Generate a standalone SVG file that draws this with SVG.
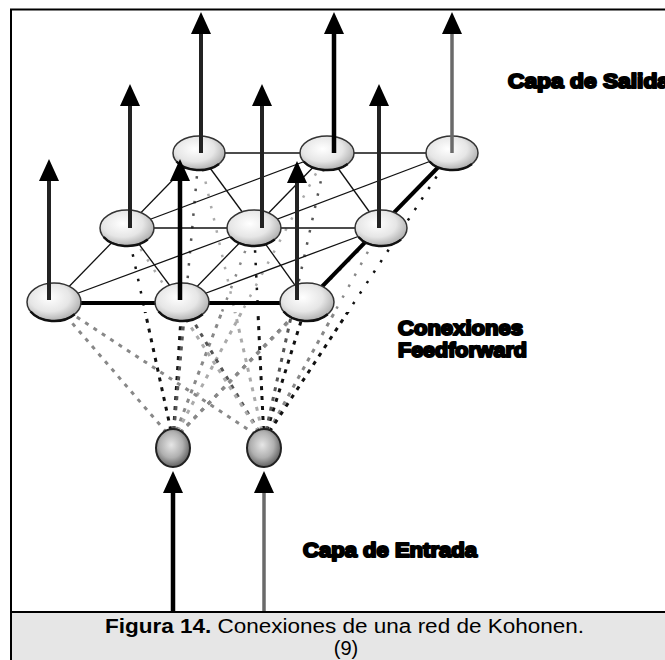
<svg xmlns="http://www.w3.org/2000/svg" width="665" height="660" viewBox="0 0 665 660">
  <defs>
    <radialGradient id="shell" cx="0.42" cy="0.38" r="0.68">
      <stop offset="0" stop-color="#ffffff"/>
      <stop offset="0.55" stop-color="#e6e6e6"/>
      <stop offset="1" stop-color="#a4a4a4"/>
    </radialGradient>
    <radialGradient id="bead" cx="0.45" cy="0.42" r="0.62">
      <stop offset="0" stop-color="#e6e6e6"/>
      <stop offset="0.55" stop-color="#b0b0b0"/>
      <stop offset="1" stop-color="#555555"/>
    </radialGradient>
    <marker id="head" viewBox="0 0 22 20" refX="11" refY="10" markerWidth="22" markerHeight="20" markerUnits="userSpaceOnUse" orient="auto">
      <path d="M0,0 L22,10 L0,20 Z" fill="#000"/>
    </marker>
    <clipPath id="below-map"><rect x="0" y="312" width="665" height="300"/></clipPath>
    <clipPath id="inside-map"><rect x="0" y="130" width="665" height="182"/></clipPath>
    <!-- one dotted line from each input unit to each map unit -->
    <g id="ff-lines">
      <line class="g" x1="173" y1="440" x2="54" y2="302"/>
      <line class="k" x1="173" y1="440" x2="182" y2="302"/>
      <line class="d" x1="173" y1="440" x2="307" y2="302"/>
      <line class="k" x1="173" y1="440" x2="127" y2="228"/>
      <line class="g" x1="173" y1="440" x2="254" y2="228"/>
      <line class="l" x1="173" y1="440" x2="381" y2="228"/>
      <line class="d" x1="173" y1="440" x2="199" y2="153"/>
      <line class="l" x1="173" y1="440" x2="327" y2="153"/>
      <line class="g" x1="173" y1="440" x2="452" y2="153"/>
      <line class="g" x1="264" y1="440" x2="54" y2="302"/>
      <line class="d" x1="264" y1="440" x2="182" y2="302"/>
      <line class="k" x1="264" y1="440" x2="307" y2="302"/>
      <line class="l" x1="264" y1="440" x2="127" y2="228"/>
      <line class="k" x1="264" y1="440" x2="254" y2="228"/>
      <line class="g" x1="264" y1="440" x2="381" y2="228"/>
      <line class="l" x1="264" y1="440" x2="199" y2="153"/>
      <line class="d" x1="264" y1="440" x2="327" y2="153"/>
      <line class="k" x1="264" y1="440" x2="452" y2="153"/>
    </g>
    <style>
      .ff { fill: none; stroke-width: 3; stroke-dasharray: 4 6; }
      .ff-fine { fill: none; stroke-width: 2.5; stroke-dasharray: 2.5 10; }
      .k { stroke: #111; }
      .d { stroke: #555; }
      .g { stroke: #888; }
      .l { stroke: #aaa; }
      .mesh { stroke: #111; stroke-width: 1.3; fill: none; }
      .edge { stroke: #000; stroke-width: 4; fill: none; }
      .cell { fill: url(#shell); stroke: #333; stroke-width: 1.5; }
      .rim { fill: none; stroke: #111; stroke-width: 2.5; }
      .bead { fill: url(#bead); stroke: #222; stroke-width: 2; }
      .shaft { stroke: #222; stroke-width: 4; marker-end: url(#head); }
      .shaft.grey { stroke: #6a6a6a; stroke-width: 3.5; }
      .shaft.black { stroke: #000; stroke-width: 4.5; }
      .label { font-family: "Liberation Sans", Arial, sans-serif; font-weight: bold; font-size: 21px; fill: #000; stroke: #000; stroke-width: 2.2; stroke-linejoin: round; }
      .caption { font-family: "Liberation Sans", Arial, sans-serif; font-size: 20px; fill: #000; }
    </style>
  </defs>

  <!-- frame -->
  <rect x="11" y="9.5" width="700" height="700" fill="#fff" stroke="#000" stroke-width="2"/>

  <!-- feedforward connections -->
  <g id="feedforward">
    <g class="ff" clip-path="url(#below-map)"><use href="#ff-lines"/></g>
    <g class="ff-fine" clip-path="url(#inside-map)"><use href="#ff-lines"/></g>
  </g>

  <!-- lateral connections of the output map -->
  <g id="mesh">
    <!-- rows -->
    <line class="mesh" x1="199" y1="153" x2="452" y2="153"/>
    <line class="mesh" x1="127" y1="228" x2="381" y2="228"/>
    <line class="edge" x1="54" y1="303" x2="307" y2="303"/>
    <!-- columns -->
    <line class="mesh" x1="54" y1="302" x2="199" y2="153"/>
    <line class="mesh" x1="182" y1="302" x2="327" y2="153"/>
    <line class="edge" x1="307" y1="302" x2="452" y2="153"/>
    <!-- diagonals -->
    <line class="mesh" x1="54" y1="302" x2="254" y2="228"/>
    <line class="mesh" x1="182" y1="302" x2="381" y2="228"/>
    <line class="mesh" x1="127" y1="228" x2="327" y2="153"/>
    <line class="mesh" x1="254" y1="228" x2="452" y2="153"/>
    <line class="mesh" x1="127" y1="228" x2="182" y2="302"/>
    <line class="mesh" x1="254" y1="228" x2="307" y2="302"/>
    <line class="mesh" x1="199" y1="153" x2="254" y2="228"/>
    <line class="mesh" x1="327" y1="153" x2="381" y2="228"/>
  </g>

  <!-- output map units -->
  <g id="unit-b1"><ellipse class="cell" cx="199" cy="153" rx="26" ry="17"/><path class="rim" d="M176.5,161.5 A26,17 0 0 0 219,164"/></g>
  <g id="unit-b2"><ellipse class="cell" cx="327" cy="153" rx="27" ry="17"/><path class="rim" d="M303.6,161.5 A27,17 0 0 0 347.7,164"/></g>
  <g id="unit-b3"><ellipse class="cell" cx="452" cy="153" rx="26" ry="17"/><path class="rim" d="M429.5,161.5 A26,17 0 0 0 472,164"/></g>
  <g id="unit-m1"><ellipse class="cell" cx="127" cy="228" rx="27" ry="18"/><path class="rim" d="M103.6,237 A27,18 0 0 0 147.7,239.6"/></g>
  <g id="unit-m2"><ellipse class="cell" cx="254" cy="228" rx="27" ry="18"/><path class="rim" d="M230.6,237 A27,18 0 0 0 274.7,239.6"/></g>
  <g id="unit-m3"><ellipse class="cell" cx="381" cy="228" rx="26" ry="18"/><path class="rim" d="M358.5,237 A26,18 0 0 0 401,239.6"/></g>
  <g id="unit-f1"><ellipse class="cell" cx="54" cy="302" rx="27" ry="19"/><path class="rim" d="M30.6,311.5 A27,19 0 0 0 74.7,314.2"/></g>
  <g id="unit-f2"><ellipse class="cell" cx="182" cy="302" rx="27" ry="19"/><path class="rim" d="M158.6,311.5 A27,19 0 0 0 202.7,314.2"/></g>
  <g id="unit-f3"><ellipse class="cell" cx="307" cy="302" rx="27" ry="19"/><path class="rim" d="M283.6,311.5 A27,19 0 0 0 327.7,314.2"/></g>

  <!-- input units -->
  <g id="input-1"><ellipse class="bead" cx="173" cy="448" rx="17" ry="19"/></g>
  <g id="input-2"><ellipse class="bead" cx="264" cy="448" rx="17" ry="19"/></g>

  <!-- outputs and inputs -->
  <g id="arrows">
    <line class="shaft" x1="201" y1="153" x2="201" y2="23"/>
    <line class="shaft black" x1="334" y1="153" x2="334" y2="23"/>
    <line class="shaft grey" x1="452" y1="153" x2="452" y2="23"/>
    <line class="shaft" x1="130" y1="228" x2="130" y2="95"/>
    <line class="shaft" x1="262" y1="228" x2="262" y2="95"/>
    <line class="shaft" x1="379" y1="228" x2="379" y2="95"/>
    <line class="shaft" x1="49" y1="300" x2="49" y2="170"/>
    <line class="shaft black" x1="180" y1="300" x2="180" y2="170"/>
    <line class="shaft" x1="297" y1="300" x2="297" y2="172"/>
    <line class="shaft black" x1="173" y1="612" x2="173" y2="482"/>
    <line class="shaft grey" x1="264" y1="612" x2="264" y2="482"/>
  </g>

  <!-- layer labels -->
  <text class="label" x="508" y="88" textLength="162" lengthAdjust="spacingAndGlyphs">Capa de Salida</text>
  <text class="label" x="398" y="335" textLength="125" lengthAdjust="spacingAndGlyphs">Conexiones</text>
  <text class="label" x="398" y="357" textLength="129" lengthAdjust="spacingAndGlyphs">Feedforward</text>
  <text class="label" x="303" y="557" textLength="174" lengthAdjust="spacingAndGlyphs">Capa de Entrada</text>

  <!-- caption -->
  <rect x="11" y="612" width="700" height="60" fill="#e6e6e6" stroke="#000" stroke-width="2"/>
  <text class="caption" x="105" y="633" textLength="479" lengthAdjust="spacingAndGlyphs"><tspan font-weight="bold">Figura 14.</tspan> Conexiones de una red de Kohonen.</text>
  <text class="caption" x="346" y="655" text-anchor="middle">(9)</text>
</svg>
